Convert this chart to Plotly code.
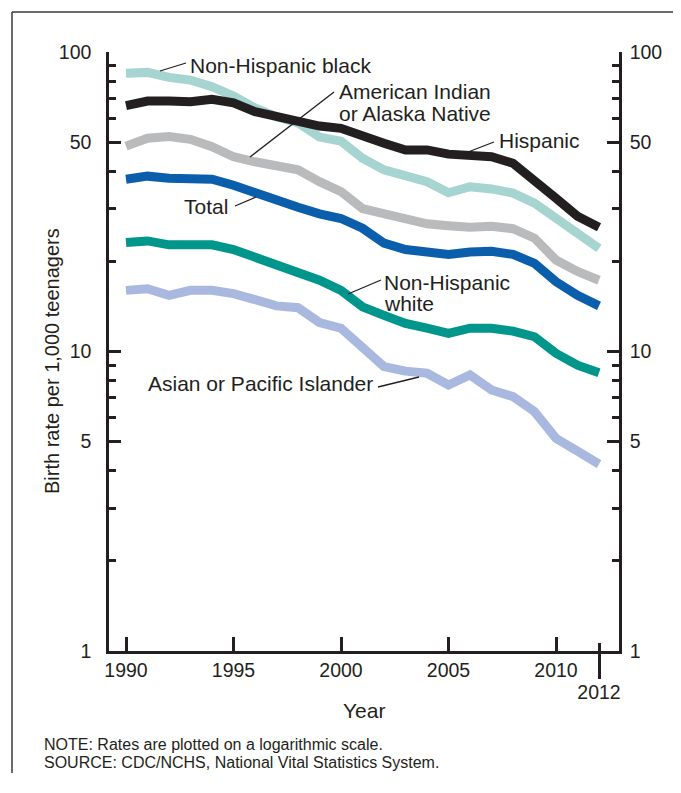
import plotly.graph_objects as go

years = list(range(1990, 2013))

nh_black = [84.9, 85.5, 82.3, 80.6, 76.6, 71.3, 65.0, 60.8, 58.0, 52.0, 50.4, 44.2, 40.4,
            38.3, 36.9, 33.9, 35.5, 34.9, 33.8, 31.3, 27.9, 24.9, 22.1]
hispanic = [66.2, 68.6, 68.6, 68.2, 69.5, 67.6, 63.2, 60.8, 59.3, 56.6, 55.6, 52.1, 49.6,
            47.1, 47.1, 45.6, 44.9, 44.7, 42.5, 37.4, 32.5, 28.3, 26.0]
aian = [48.5, 51.5, 52.2, 51.1, 48.3, 44.7, 43.0, 41.6, 40.4, 36.9, 34.2, 30.0, 28.8,
        27.9, 26.7, 26.3, 26.0, 26.2, 25.7, 23.9, 20.2, 18.5, 17.3]
total = [37.6, 38.5, 37.9, 38.0, 37.6, 35.9, 33.8, 32.1, 30.3, 28.8, 27.8, 25.8, 23.0,
         21.9, 21.5, 21.1, 21.5, 21.6, 21.1, 19.7, 17.1, 15.4, 14.2]
nh_white = [23.1, 23.4, 22.7, 22.7, 22.7, 21.9, 20.7, 19.4, 18.6, 17.3, 16.0, 14.1, 13.2,
            12.4, 11.96, 11.5, 11.96, 11.96, 11.7, 11.2, 9.86, 9.0, 8.5]
api = [16.0, 16.2, 15.4, 16.0, 16.0, 15.6, 14.9, 14.2, 14.0, 12.5, 11.96, 10.2, 8.9,
       8.6, 8.46, 7.73, 8.35, 7.44, 7.07, 6.30, 5.13, 4.65, 4.21]

x_tickvals = [1990, 1995, 2000, 2005, 2010]
x_ticktext = ["1990", "1995", "2000", "2005", "2010"]
y_tickvals = [1, 5, 10, 50, 100]
y_ticktext = ["1", "5", "10", "50", "100"]
y_minor = [2, 3, 4, 6, 7, 8, 9, 20, 30, 40, 60, 70, 80, 90]

series = [
    ("Non-Hispanic black", nh_black, "#a6d4d0"),
    ("Hispanic", hispanic, "#231f20"),
    ("American Indian or Alaska Native", aian, "#b9babc"),
    ("Total", total, "#0a5eab"),
    ("Non-Hispanic white", nh_white, "#00968c"),
    ("Asian or Pacific Islander", api, "#a9b8df"),
]

W, H = 681, 793
OFF = 8  # page body margin (each side)
L, R, T, B = 109, 619, 52, 651
PW, PH = R - L, B - T
FIG_W, FIG_H = W - 2 * OFF, H - 28


def px(x):
    return (x - L) / PW


def py(y):
    return (B - y) / PH


FONT = "Liberation Sans, Arial, sans-serif"
INK = "#231f20"
TICK_SIZE = 19.5
LAB_SIZE = 21

fig = go.Figure()
for name, vals, col in series:
    fig.add_trace(go.Scatter(x=years, y=vals, mode="lines", name=name,
                             line=dict(color=col, width=9), showlegend=False,
                             hoverinfo="skip"))
# invisible trace to anchor secondary axes
fig.add_trace(go.Scatter(x=years, y=total, xaxis="x2", yaxis="y2", mode="lines",
                         line=dict(width=0), opacity=0, showlegend=False, hoverinfo="skip"))

xr = [1990 - (126 - L) / 21.5, 2012 + (R - 599) / 21.5]
tf = dict(size=TICK_SIZE, family=FONT, color=INK)

fig.update_layout(
    width=FIG_W, height=FIG_H,
    margin=dict(l=L - OFF, r=FIG_W - (R - OFF), t=T - OFF, b=FIG_H - (B - OFF), pad=0),
    paper_bgcolor="white", plot_bgcolor="white",
    font=dict(family=FONT, size=18, color=INK),
    xaxis=dict(range=xr, tickvals=x_tickvals, ticktext=x_ticktext, ticks="inside",
               ticklen=14, tickwidth=2.5, tickcolor=INK, showline=True, linewidth=2.5,
               linecolor=INK, showgrid=False, zeroline=False, tickfont=tf,
               minor=dict(tickmode="array", tickvals=[2012], ticks="inside", ticklen=8,
                          tickwidth=2.5, tickcolor=INK, showgrid=False)),
    xaxis2=dict(range=xr, overlaying="x", side="bottom", tickvals=[2012], ticktext=["2012"],
                ticks="outside", ticklen=27, tickwidth=2.5, tickcolor=INK, showline=False,
                showgrid=False, zeroline=False, tickfont=tf, ticklabelstandoff=-3),
    yaxis=dict(type="log", range=[0, 2], tickvals=y_tickvals, ticktext=y_ticktext,
               ticks="inside", ticklen=12, tickwidth=2.5, tickcolor=INK, showline=True,
               linewidth=2.5, linecolor=INK, showgrid=False, zeroline=False,
               ticklabelstandoff=11, tickfont=tf,
               minor=dict(tickmode="array", tickvals=y_minor, ticks="inside", ticklen=7,
                          tickwidth=2.5, tickcolor=INK, showgrid=False)),
    yaxis2=dict(type="log", range=[0, 2], overlaying="y", side="right", anchor="x",
                tickvals=y_tickvals, ticktext=y_ticktext, ticks="inside", ticklen=12,
                tickwidth=2.5, tickcolor=INK, showline=True, linewidth=2.5, linecolor=INK,
                showgrid=False, zeroline=False, ticklabelstandoff=4, tickfont=tf,
                minor=dict(tickmode="array", tickvals=y_minor, ticks="inside", ticklen=7,
                           tickwidth=2.5, tickcolor=INK, showgrid=False)),
)

shapes = []
# blank strip along the right edge
shapes.append(dict(type="rect", xref="paper", yref="paper", x0=px(662), x1=px(720),
                   y0=py(830), y1=py(0), fillcolor="white", line=dict(width=0),
                   layer="above"))
# outer frame: top and left edges only (the rest runs off the page)
frame = dict(color="#3a3a3a", width=1.5)
shapes.append(dict(type="line", xref="paper", yref="paper", x0=px(12), x1=px(720),
                   y0=py(12), y1=py(12), line=frame))
shapes.append(dict(type="line", xref="paper", yref="paper", x0=px(12), x1=px(12),
                   y0=py(12), y1=py(830), line=frame))
# leader lines
leaders = [
    ((160, 71), (186, 63)),
    ((250, 157), (334, 92)),
    ((468, 152), (494, 142)),
    ((235, 206), (256, 197)),
    ((348, 294), (381, 280)),
    ((378, 387), (419, 377)),
]
for (x0, y0), (x1, y1) in leaders:
    shapes.append(dict(type="line", xref="paper", yref="paper", x0=px(x0), y0=py(y0),
                       x1=px(x1), y1=py(y1), line=dict(color=INK, width=1.3)))
fig.update_layout(shapes=shapes)

ann = []


def label(text, x, y, size=LAB_SIZE, xanchor="left", yanchor="middle", **kw):
    ann.append(dict(text=text, x=px(x), y=py(y), xref="paper", yref="paper",
                    xanchor=xanchor, yanchor=yanchor, showarrow=False,
                    font=dict(size=size, family=FONT, color=INK), align="left", **kw))


label("Non-Hispanic black", 188, 65)
label("American Indian", 337, 92)
label("or Alaska Native", 337, 113)
label("Hispanic", 497, 140)
label("Total", 182, 207)
label("Non-Hispanic", 382, 282)
label("white", 382, 303)
label("Asian or Pacific Islander", 146, 383)
label("Year", (L + R) / 2, 710, xanchor="center")
label("Birth rate per 1,000 teenagers", 52, 361, size=20, xanchor="center", textangle=-90)
label("NOTE: Rates are plotted on a logarithmic scale.", 42, 744, size=16)
label("SOURCE: CDC/NCHS, National Vital Statistics System.", 42, 762, size=16)
fig.update_layout(annotations=ann)

fig.write_html("out.html")
